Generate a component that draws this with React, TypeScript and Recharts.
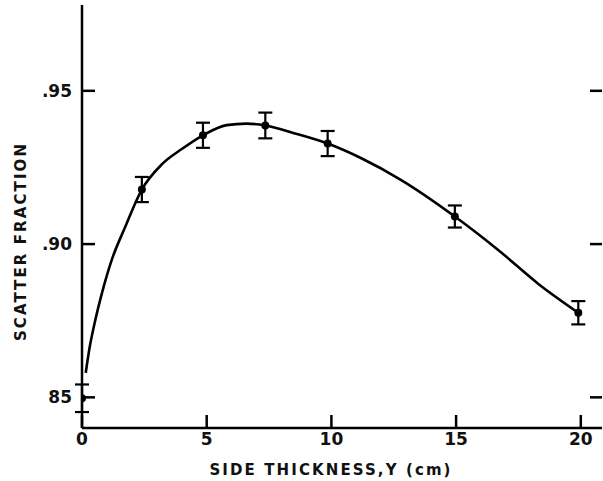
import React from "react";
import {
  ComposedChart,
  Line,
  Scatter,
  ErrorBar,
  XAxis,
  YAxis,
  Label,
} from "recharts";

// smooth fitted curve
const curveX = [0.15, 0.3, 0.5, 0.8, 1.2, 1.7, 2.4, 3.2, 4.0, 4.85, 5.8, 6.6, 7.35, 8.5, 9.85, 11.2, 12.8, 14.95, 16.7, 18.3, 19.9];
const curveY = [0.858, 0.866, 0.874, 0.884, 0.895, 0.905, 0.9178, 0.926, 0.931, 0.9355, 0.9388, 0.9393, 0.9387, 0.9362, 0.9328, 0.928, 0.9209, 0.909, 0.898, 0.887, 0.8776];

// measured points with error bars
const pointX = [0, 2.4, 4.85, 7.35, 9.85, 14.95, 19.9];
const pointY = [0.8497, 0.9178, 0.9355, 0.9387, 0.9328, 0.909, 0.8776];
const pointErr = [0.0045, 0.0041, 0.0041, 0.0042, 0.0041, 0.0036, 0.0038];

const xTicks = [0, 5, 10, 15, 20];
const yTicks = [0.85, 0.9, 0.95];
const yTickLabels = ["85", ".90", ".95"];

const curveData = curveX.map((x, i) => ({ x, y: curveY[i] }));
const pointData = pointX.map((x, i) => ({ x, y: pointY[i], err: pointErr[i] }));

const FONT = "'DejaVu Sans', sans-serif";
const INK = "#111";

function Dot(props: any) {
  return <circle cx={props.cx} cy={props.cy} r={4} fill="#000" />;
}

// x tick: inward tick mark above the axis plus the label below
function XTick({ x, y, payload }: any) {
  return (
    <g>
      <line x1={x} x2={x} y1={y - 5} y2={y - 18} stroke="#000" strokeWidth={2.5} />
      <text x={x} y={y} dy="0.71em" textAnchor="middle" fontFamily={FONT} fontSize={17} fontWeight={700} fill={INK}>
        {payload.value}
      </text>
    </g>
  );
}

function YTick({ x, y, payload }: any) {
  return (
    <g>
      <line x1={x + 10} x2={x + 23} y1={y} y2={y} stroke="#000" strokeWidth={2.5} />
      <text x={x} y={y} dy="0.355em" textAnchor="end" fontFamily={FONT} fontSize={17} fontWeight={700} fill={INK}>
        {yTickLabels[yTicks.indexOf(payload.value)] ?? ""}
      </text>
    </g>
  );
}

function RightTick({ x, y }: any) {
  return <line x1={x} x2={x - 12} y1={y} y2={y} stroke="#000" strokeWidth={2.5} />;
}

function YTitle({ viewBox }: any) {
  const cx = 21;
  const cy = viewBox.y + viewBox.height / 2 + 25;
  return (
    <text
      x={cx}
      y={cy}
      transform={`rotate(-90 ${cx} ${cy})`}
      textAnchor="middle"
      dominantBaseline="central"
      fontFamily={FONT}
      fontSize={15}
      fontWeight={700}
      letterSpacing={2.1}
      fill={INK}
    >
      SCATTER FRACTION
    </text>
  );
}

export default function App() {
  return (
    <div style={{ position: "absolute", left: 0, top: 0, background: "#fff" }}>
      <ComposedChart
        width={603}
        height={481}
        margin={{ top: 5, right: 0, bottom: 0, left: 0 }}
      >
        <XAxis
          dataKey="x"
          type="number"
          domain={[0, 20.85]}
          allowDataOverflow
          ticks={xTicks}
          height={53}
          tickSize={0}
          tickMargin={5}
          axisLine={{ stroke: "#000", strokeWidth: 2.5 }}
          tickLine={false}
          tick={<XTick />}
        >
          <Label
            value="SIDE THICKNESS,Y (cm)"
            position="insideBottom"
            offset={6}
            dx={-11}
            style={{ fontFamily: FONT, fontSize: 15, fontWeight: 700, fill: INK, letterSpacing: 2.1 }}
          />
        </XAxis>
        <YAxis
          yAxisId="l"
          type="number"
          domain={[0.84, 0.978]}
          allowDataOverflow
          ticks={yTicks}
          width={82}
          tickSize={0}
          tickMargin={10}
          axisLine={{ stroke: "#000", strokeWidth: 2.5 }}
          tickLine={false}
          tick={<YTick />}
        >
          <Label content={<YTitle />} />
        </YAxis>
        <YAxis
          yAxisId="r"
          orientation="right"
          type="number"
          domain={[0.84, 0.978]}
          allowDataOverflow
          ticks={yTicks}
          width={1}
          tickSize={0}
          tickMargin={0}
          axisLine={false}
          tickLine={false}
          tick={<RightTick />}
        />
        <Line
          yAxisId="l"
          data={curveData}
          dataKey="y"
          type="monotone"
          stroke="#000"
          strokeWidth={2.6}
          dot={false}
          isAnimationActive={false}
        />
        <Scatter
          yAxisId="l"
          data={pointData}
          dataKey="y"
          shape={<Dot />}
          isAnimationActive={false}
        >
          <ErrorBar dataKey="err" direction="y" width={7} stroke="#000" strokeWidth={2.2} />
        </Scatter>
      </ComposedChart>
    </div>
  );
}
